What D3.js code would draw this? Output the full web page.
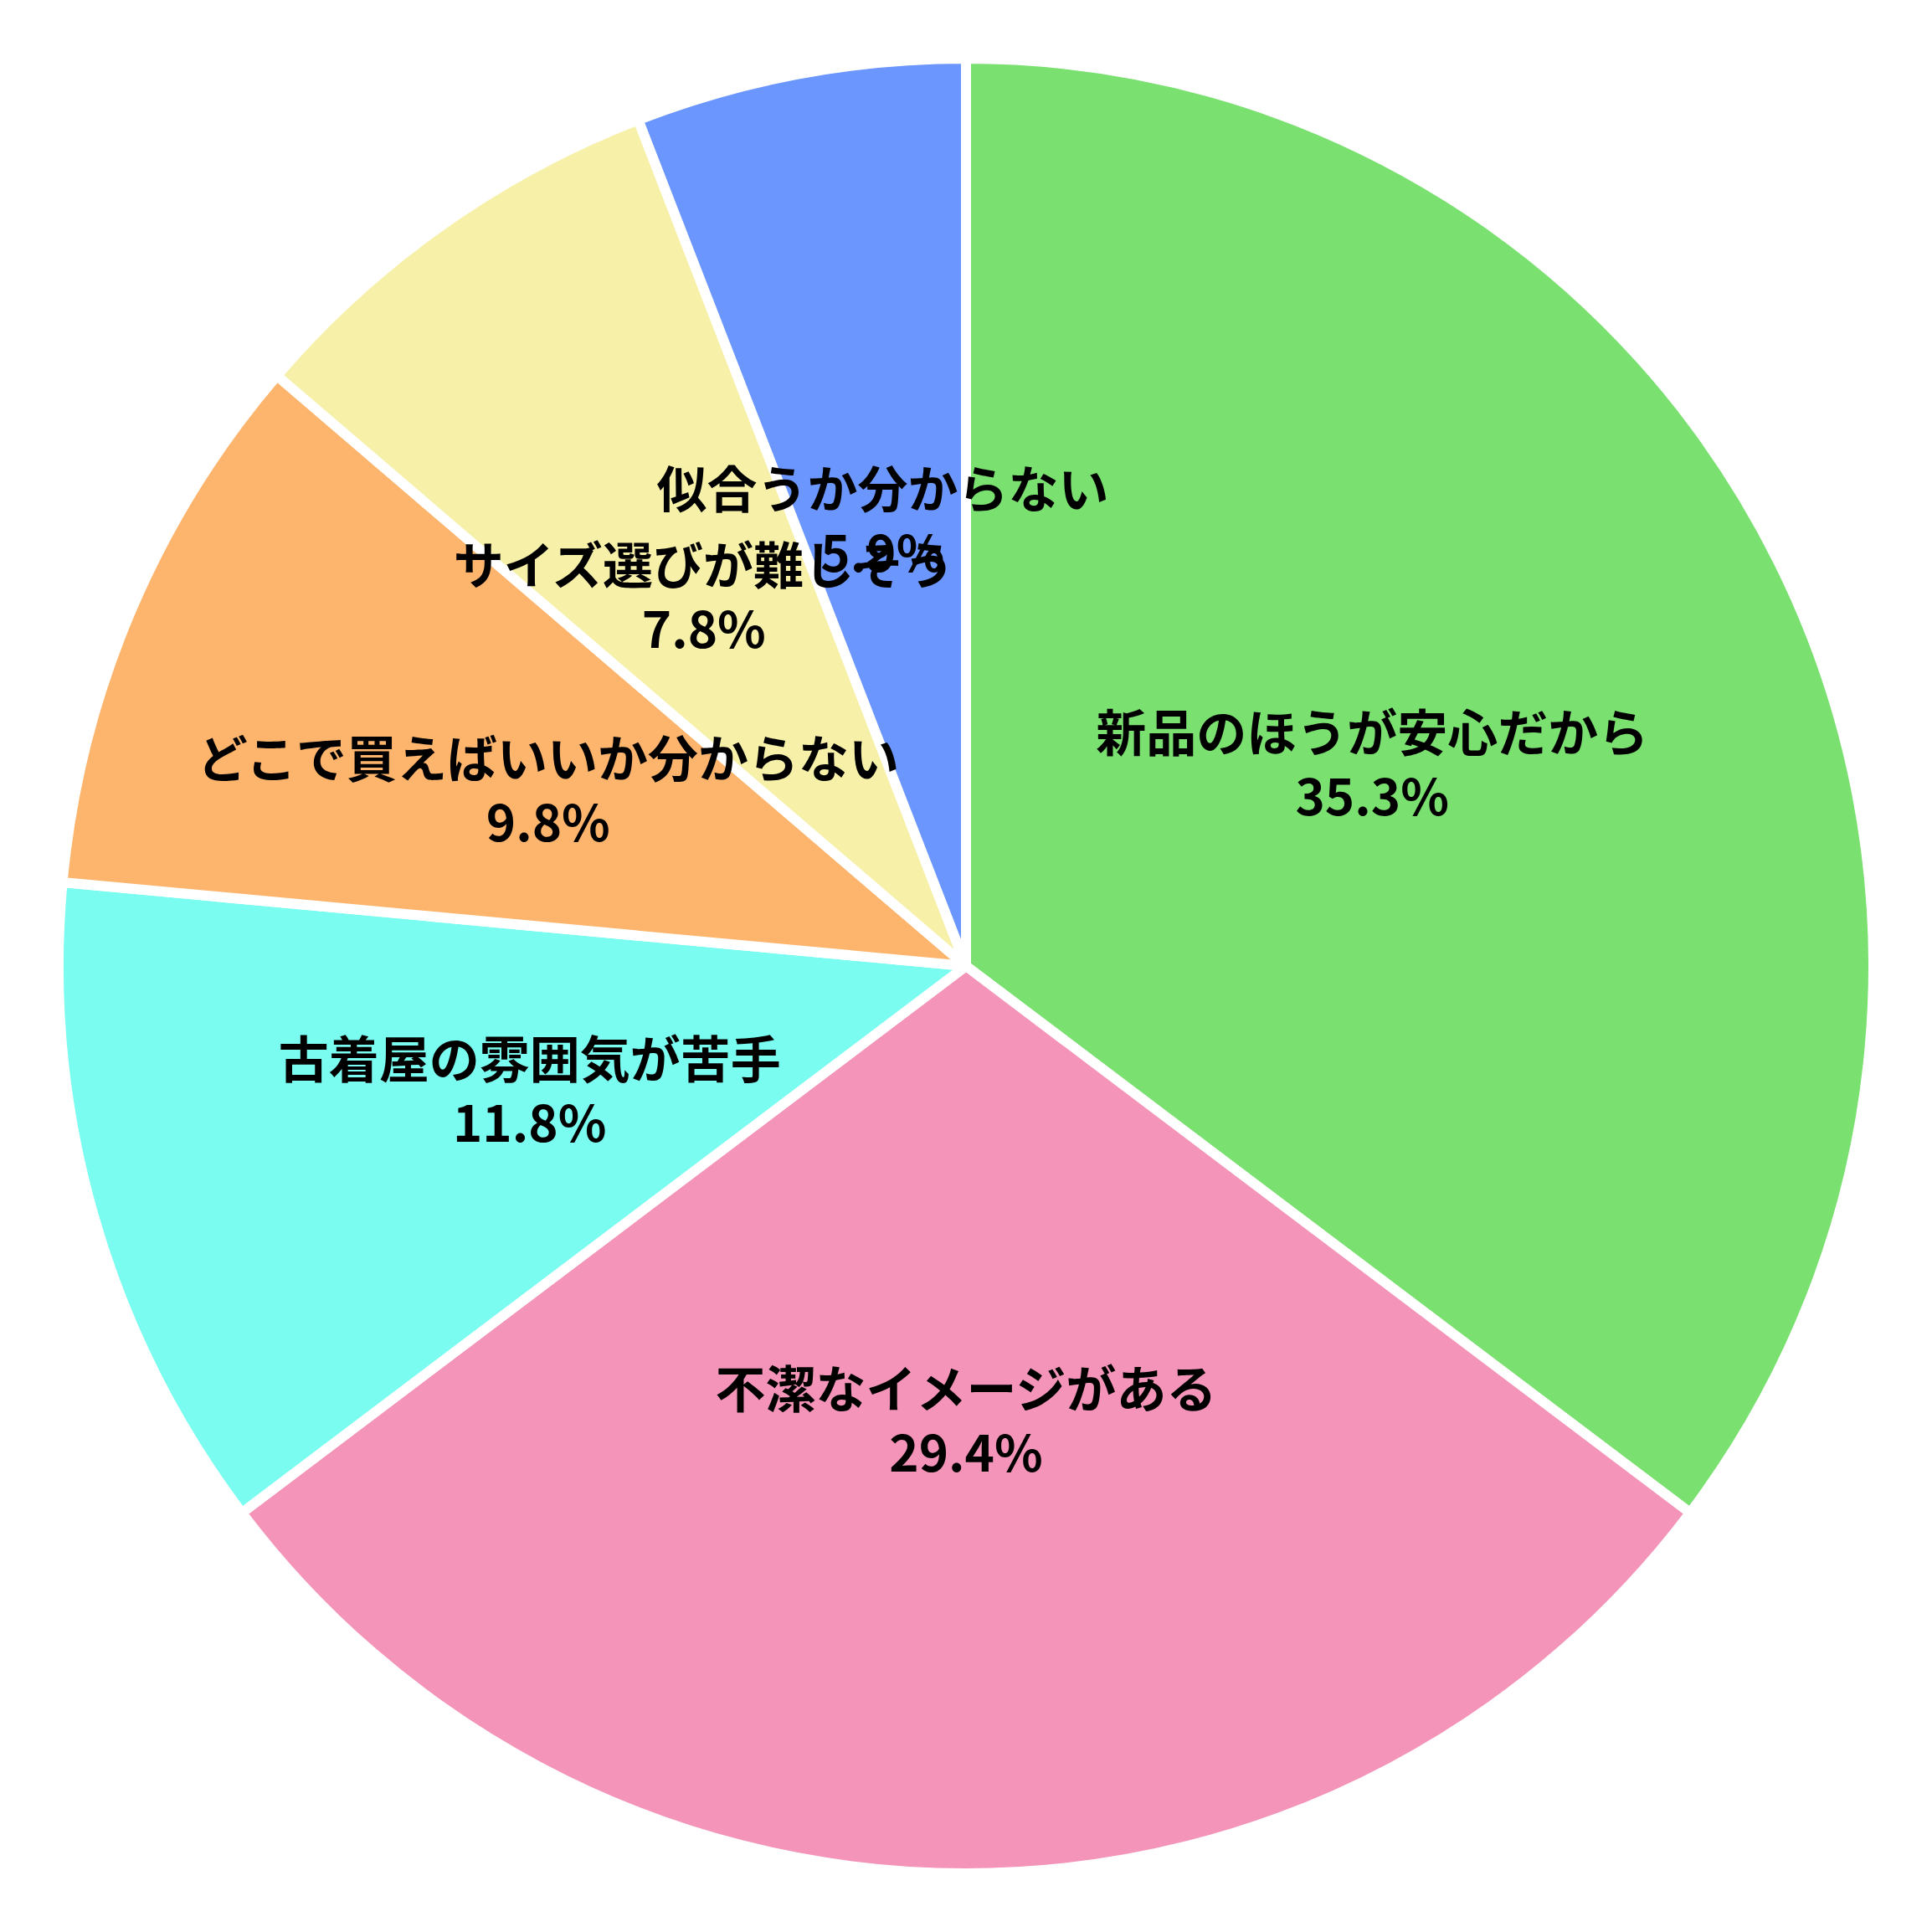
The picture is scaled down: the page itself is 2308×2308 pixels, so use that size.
<!DOCTYPE html>
<html>
<head>
<meta charset="utf-8">
<script src="https://cdn.jsdelivr.net/npm/d3@7"></script>
<style>
  html, body { margin: 0; padding: 0; background: #fff; }
  svg { display: block; }
</style>
</head>
<body>
<svg id="chart" width="2308" height="2308"></svg>
<script>
const categories = ["新品のほうが安心だから", "不潔なイメージがある", "古着屋の雰囲気が苦手",
                    "どこで買えばいいか分からない", "サイズ選びが難しそう", "似合うか分からない"]
const counts = [18, 15, 6, 5, 4, 3]
const colors = ["#7ae070", "#f494b8", "#7afcf0", "#fdb46c", "#f7f0a8", "#6b96fe"]

const svg = d3.select("#chart")
const width = 2308, height = 2308
const radius = 1084
const fontSize = 60

const total = d3.sum(counts)
const data = categories.map((name, i) => ({name, value: counts[i], color: colors[i]}))

const pie = d3.pie().value(d => d.value).sort(null)
const arc = d3.arc().innerRadius(0).outerRadius(radius)

const g = svg.append("g")
             .attr("transform", `translate(${width / 2}, ${height / 2})`)

g.selectAll("path")
 .data(pie(data))
 .join("path")
 .attr("d", arc)
 .attr("fill", d => d.data.color)
 .attr("stroke", "#fff")
 .attr("stroke-width", 12)
 .attr("stroke-linejoin", "round")

const labels = g.selectAll("text")
                .data(pie(data))
                .join("text")
                .attr("transform", d => `translate(${arc.centroid(d)})`)
                .attr("text-anchor", "middle")
                .style("font-family", "'Noto Sans CJK JP', 'Noto Sans', sans-serif")
                .style("font-weight", "bold")
                .style("font-size", fontSize + "px")
                .attr("fill", "#000")

labels.append("tspan")
      .attr("x", 0)
      .attr("y", -14)
      .text(d => d.data.name)

labels.append("tspan")
      .attr("x", 0)
      .attr("y", 62)
      .text(d => (d.data.value / total * 100).toFixed(1) + "%")
</script>
</body>
</html>
